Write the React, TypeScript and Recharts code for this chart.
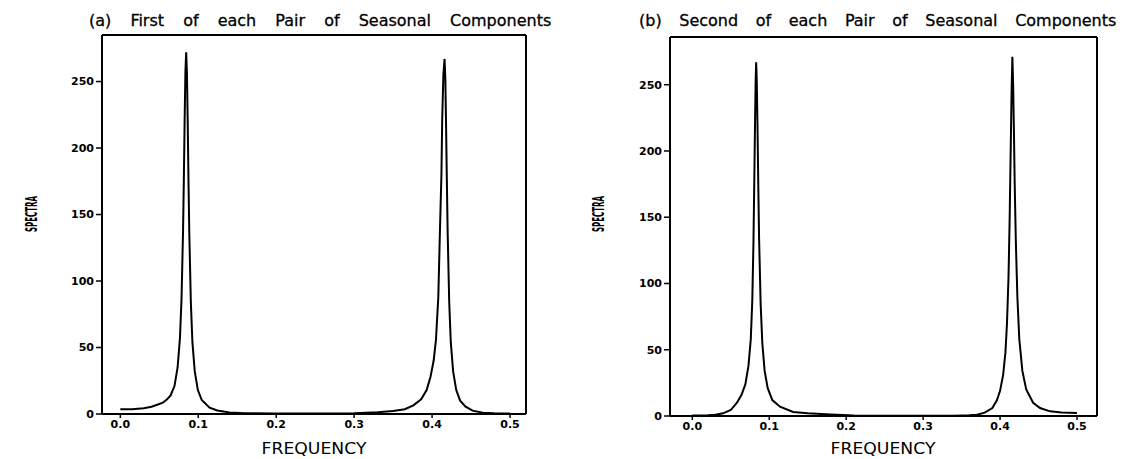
import React from 'react';
import { LineChart, Line, XAxis, YAxis, ReferenceLine } from 'recharts';

// panel (a): first of each pair of seasonal components
const freqA = [
  0, 0.015, 0.03, 0.04, 0.05, 0.0545, 0.06, 0.0645, 0.0695, 0.0735, 0.0765, 0.0785, 0.0805, 0.0815,
  0.0825, 0.0835, 0.0845, 0.0855, 0.0865, 0.0875, 0.0885, 0.0905, 0.0925, 0.0955, 0.0995, 0.1045,
  0.1145, 0.1245, 0.14, 0.16, 0.2, 0.25, 0.3, 0.33, 0.35, 0.365, 0.376, 0.386, 0.393, 0.398, 0.402,
  0.405, 0.408, 0.41, 0.412, 0.413, 0.4145, 0.416, 0.417, 0.418, 0.419, 0.42, 0.422, 0.424, 0.427,
  0.431, 0.436, 0.443, 0.452, 0.465, 0.48, 0.5,
];
const spectraA = [
  3.5, 3.6, 4.3, 5.5, 7.5, 8.5, 11, 14, 21, 35, 57, 86, 138, 176,
  220, 257, 272, 256, 218, 174, 136, 84, 54, 32, 18, 10.5,
  4.8, 2.7, 1.2, 0.6, 0.3, 0.3, 0.6, 1.3, 2.3, 3.6, 6.5, 11, 18, 28, 40,
  56, 88, 136, 180, 222, 255, 267, 252, 215, 174, 136, 84, 54, 32,
  18, 10, 5.5, 2.5, 1, 0.5, 0.3,
];

// panel (b): second of each pair of seasonal components
const freqB = [
  0, 0.02, 0.03, 0.04, 0.05, 0.058, 0.064, 0.069, 0.073, 0.076, 0.078, 0.0795, 0.0805, 0.0815,
  0.0823, 0.083, 0.0838, 0.0848, 0.0858, 0.0868, 0.0888, 0.091, 0.094, 0.098, 0.104, 0.114, 0.131,
  0.15, 0.18, 0.21, 0.25, 0.3, 0.34, 0.36, 0.37, 0.38, 0.39, 0.396, 0.4, 0.404, 0.407, 0.409, 0.411,
  0.4125, 0.4138, 0.415, 0.416, 0.417, 0.418, 0.419, 0.4205, 0.4225, 0.425, 0.429, 0.434, 0.443,
  0.452, 0.465, 0.48, 0.5,
];
const spectraB = [
  0.3, 0.5, 0.9, 2, 4.5, 10, 16, 24, 38, 58, 88, 132, 175, 220,
  252, 267, 252, 216, 172, 134, 85, 55, 34, 21, 12, 7, 3,
  2, 1.2, 0.4, 0.1, 0.1, 0.2, 0.5, 1, 2.5, 6, 12, 19, 31, 48, 70, 105,
  150, 200, 245, 271, 250, 216, 176, 132, 90, 58, 34, 20, 10,
  6, 3.5, 2.7, 2.2,
];

const xTicks = [0, 0.1, 0.2, 0.3, 0.4, 0.5];
const yTicks = [0, 50, 100, 150, 200, 250];

const dataA = freqA.map((f, i) => ({ freq: f, spectra: spectraA[i] }));
const dataB = freqB.map((f, i) => ({ freq: f, spectra: spectraB[i] }));

const tickStyle = { fill: '#000', fontSize: 11, fontWeight: 700, fontFamily: 'DejaVu Sans' };

interface PanelProps {
  data: { freq: number; spectra: number }[]
  xDomain: [number, number]
  yMax: number
  width: number
  margin: { top: number; right: number; bottom: number; left: number }
  xAxisHeight: number
}

const Panel: React.FC<PanelProps> = ({ data, xDomain, yMax, width, margin, xAxisHeight }) => (
  <LineChart width={width} height={459} data={data} margin={margin}>
    <XAxis
      dataKey="freq"
      type="number"
      domain={xDomain}
      ticks={xTicks}
      allowDataOverflow
      tickFormatter={(v: number) => v.toFixed(1)}
      tick={tickStyle}
      tickSize={4}
      height={xAxisHeight}
      axisLine={{ stroke: '#000', strokeWidth: 2 }}
      tickLine={{ stroke: '#000', strokeWidth: 1.5 }}
    />
    <YAxis
      type="number"
      domain={[0, yMax]}
      ticks={yTicks}
      allowDataOverflow
      tick={tickStyle}
      tickSize={6}
      width={60}
      axisLine={{ stroke: '#000', strokeWidth: 2 }}
      tickLine={{ stroke: '#000', strokeWidth: 1.5 }}
    />
    <ReferenceLine y={yMax} stroke="#000" strokeWidth={2} />
    <ReferenceLine x={xDomain[1]} stroke="#000" strokeWidth={2} />
    <Line
      dataKey="spectra"
      type="linear"
      stroke="#000"
      strokeWidth={2}
      dot={false}
      isAnimationActive={false}
    />
  </LineChart>
);

const labelFont = 'DejaVu Sans';

export default function App() {
  return (
    <div style={{ position: 'absolute', left: 0, top: 0, width: 1127, height: 459, background: '#fff' }}>
      <div style={{ position: 'absolute', left: 0, top: 0 }}>
        <Panel
          data={dataA}
          xDomain={[-0.0235, 0.5205]}
          yMax={285}
          width={563}
          margin={{ top: 35, right: 37, bottom: 0, left: 42 }}
          xAxisHeight={45}
        />
      </div>
      <div style={{ position: 'absolute', left: 563, top: 0 }}>
        <Panel
          data={dataB}
          xDomain={[-0.029, 0.526]}
          yMax={286}
          width={564}
          margin={{ top: 37, right: 30, bottom: 0, left: 47 }}
          xAxisHeight={43}
        />
      </div>
      <svg
        width={1127}
        height={459}
        style={{ position: 'absolute', left: 0, top: 0, pointerEvents: 'none' }}
      >
        <text x={89} y={26} fontFamily={labelFont} fontSize={16} wordSpacing={14} stroke="#000" strokeWidth={0.3}>
          (a) First of each Pair of Seasonal Components
        </text>
        <text x={639} y={26} fontFamily={labelFont} fontSize={16} wordSpacing={12.5} stroke="#000" strokeWidth={0.3}>
          (b) Second of each Pair of Seasonal Components
        </text>
        <text x={314} y={454} textAnchor="middle" fontFamily={labelFont} fontSize={15} textLength={105} lengthAdjust="spacingAndGlyphs">
          FREQUENCY
        </text>
        <text x={883} y={454} textAnchor="middle" fontFamily={labelFont} fontSize={15} textLength={105} lengthAdjust="spacingAndGlyphs">
          FREQUENCY
        </text>
        <text
          transform="translate(37,214) rotate(-90)"
          textAnchor="middle"
          fontFamily={labelFont}
          fontSize={16}
          fontWeight={700}
          textLength={36}
          lengthAdjust="spacingAndGlyphs"
        >
          SPECTRA
        </text>
        <text
          transform="translate(604,214) rotate(-90)"
          textAnchor="middle"
          fontFamily={labelFont}
          fontSize={16}
          fontWeight={700}
          textLength={36}
          lengthAdjust="spacingAndGlyphs"
        >
          SPECTRA
        </text>
      </svg>
    </div>
  );
}
